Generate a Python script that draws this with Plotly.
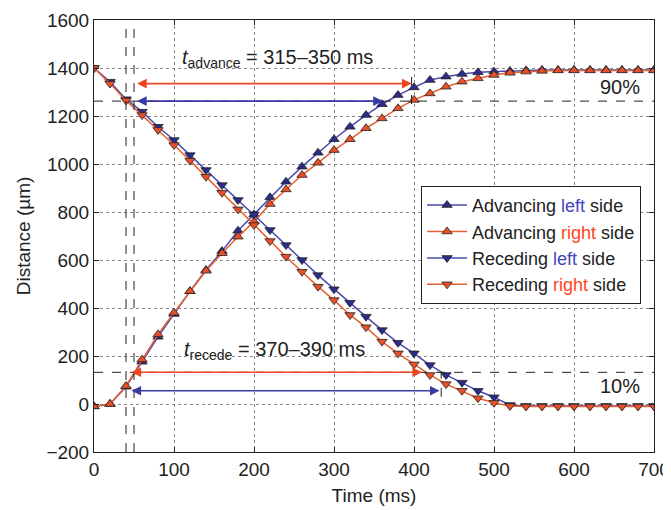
import plotly.graph_objects as go

time_ms = [0, 20, 40, 60, 80, 100, 120, 140, 160, 180, 200, 220, 240, 260, 280, 300, 320, 340,
           360, 380, 400, 420, 440, 460, 480, 500, 520, 540, 560, 580, 600, 620, 640, 660, 680, 700]

adv_left = [-10, 0, 72, 176, 280, 375, 470, 558, 637, 722, 790, 861, 926, 989, 1047, 1103, 1155, 1204,
            1249, 1287, 1319, 1350, 1364, 1375, 1382, 1385, 1388, 1390, 1392, 1392, 1392, 1392, 1392, 1392, 1392, 1392]
adv_right = [-10, 0, 75, 185, 290, 380, 470, 555, 628, 697, 760, 833, 894, 954, 1005, 1058, 1103, 1149,
             1190, 1232, 1267, 1294, 1322, 1343, 1357, 1371, 1380, 1385, 1388, 1390, 1390, 1390, 1390, 1390, 1390, 1390]
rec_left = [1400, 1343, 1270, 1218, 1155, 1100, 1037, 975, 912, 850, 790, 725, 662, 600, 537, 478, 422, 364,
            308, 255, 211, 162, 121, 89, 55, 28, -4, -8, -8, -8, -8, -8, -8, -8, -8, -8]
rec_right = [1400, 1335, 1265, 1204, 1142, 1079, 1014, 947, 880, 811, 746, 679, 614, 551, 489, 433, 371, 320,
             260, 211, 165, 121, 83, 55, 24, 5, -8, -10, -10, -10, -10, -10, -10, -10, -10, -10]

level90 = 1262
level10 = 132
v_lines = [40, 50]
adv_arrows = [(52, 397, 1335, "#ee4422"), (52, 361, 1262, "#3a3aa5")]
rec_arrows = [(45, 410, 132, "#ee4422"), (45, 432, 55, "#3a3aa5")]

BLUE_M = "#2c2c8a"
BLUE_L = "#4a4ab0"
RED_M = "#e8502a"
RED_L = "#e8602f"
FONT = "Liberation Sans, Arial, sans-serif"
TXT = "#222222"

fig = go.Figure()

def add(y, name, sym, mcol, lcol):
    fig.add_trace(go.Scatter(
        x=time_ms, y=y, name=name, mode="lines+markers",
        line=dict(color=lcol, width=1.5),
        marker=dict(symbol=sym, size=9, color=mcol, line=dict(color="#222222", width=0.8)),
    ))

add(adv_left, 'Advancing <span style="color:#4444bb">left</span> side', "triangle-up", BLUE_M, BLUE_L)
add(adv_right, 'Advancing <span style="color:#ff4422">right</span> side', "triangle-up", RED_M, RED_L)
add(rec_left, 'Receding <span style="color:#4444bb">left</span> side', "triangle-down", BLUE_M, BLUE_L)
add(rec_right, 'Receding <span style="color:#ff4422">right</span> side', "triangle-down", RED_M, RED_L)

shapes = []
for lv in (level90, level10):
    shapes.append(dict(type="line", xref="x", yref="y", x0=0, x1=700, y0=lv, y1=lv,
                       line=dict(color="#222222", width=1, dash="dash")))
for vx in v_lines:
    shapes.append(dict(type="line", xref="x", yref="y", x0=vx, x1=vx, y0=-200, y1=1600,
                       line=dict(color="#222222", width=1, dash="dash")))
shapes.append(dict(type="line", xref="x", yref="y", x0=397, x1=397, y0=1250, y1=1370,
                   line=dict(color="#222222", width=1, dash="dash")))
shapes.append(dict(type="line", xref="x", yref="y", x0=434, x1=434, y0=30, y1=130,
                   line=dict(color="#222222", width=1, dash="dash")))

annotations = []
for (x0, x1, yy, col) in adv_arrows + rec_arrows:
    annotations.append(dict(x=x1, y=yy, ax=x0, ay=yy, xref="x", yref="y", axref="x", ayref="y",
                            text="", showarrow=True, arrowhead=2, arrowside="end+start",
                            arrowsize=1.2, arrowwidth=1.6, arrowcolor=col))

annotations.append(dict(x=229, y=1440, xref="x", yref="y", showarrow=False,
                        text="<i>t</i><sub>advance</sub> = 315–350 ms",
                        font=dict(family=FONT, size=20, color=TXT)))
annotations.append(dict(x=225, y=225, xref="x", yref="y", showarrow=False,
                        text="<i>t</i><sub>recede</sub> = 370–390 ms",
                        font=dict(family=FONT, size=20, color=TXT)))
annotations.append(dict(x=685, y=1321, xref="x", yref="y", showarrow=False, xanchor="right",
                        text="90%", font=dict(family=FONT, size=20, color=TXT)))
annotations.append(dict(x=685, y=75, xref="x", yref="y", showarrow=False, xanchor="right",
                        text="10%", font=dict(family=FONT, size=20, color=TXT)))

axis_common = dict(showline=True, linecolor="#222222", linewidth=1, mirror="ticks",
                   ticks="inside", ticklen=5, tickcolor="#222222", automargin=False,
                   showgrid=True, gridcolor="#888888", griddash="dot", gridwidth=1,
                   zeroline=False, tickfont=dict(family=FONT, size=19, color=TXT))

# body of the page adds an 8px offset; figure sized so the plot area lands where the reference has it
fig.update_layout(
    width=663, height=502,
    margin=dict(l=86, r=17, t=12, b=58),
    paper_bgcolor="white", plot_bgcolor="white",
    font=dict(family=FONT, size=19, color=TXT),
    xaxis=dict(range=[0, 700], dtick=100, tick0=0,
               title=dict(text="Time (ms)", standoff=9, font=dict(family=FONT, size=19, color=TXT)),
               **axis_common),
    yaxis=dict(range=[-200, 1600], dtick=200, tick0=0, tickformat="d",
               title=dict(text="Distance (µm)", standoff=10, font=dict(family=FONT, size=19, color=TXT)),
               **axis_common),
    legend=dict(x=0.584, y=0.616, xanchor="left", yanchor="top",
                bgcolor="white", bordercolor="#222222", borderwidth=1,
                font=dict(family=FONT, size=18, color=TXT),
                tracegroupgap=0, itemwidth=40),
    shapes=shapes, annotations=annotations, showlegend=True,
)

fig.write_html("out.html")
